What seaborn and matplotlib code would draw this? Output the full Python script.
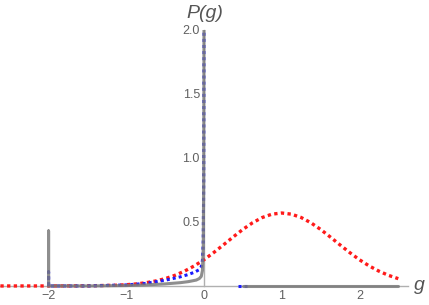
import numpy as np
import pandas as pd
import matplotlib
matplotlib.use("Agg")
import matplotlib.pyplot as plt
import seaborn as sns
from matplotlib.ticker import MultipleLocator

# ---- data ----
red_x = [-2.62, -2.0, -1.5, -1.125, -1.0, -0.875, -0.75, -0.625, -0.5, -0.375, -0.25, -0.125,
         0.0, 0.125, 0.25, 0.375, 0.5, 0.625, 0.75, 0.875, 1.0, 1.125, 1.25, 1.375, 1.5,
         1.625, 1.75, 1.875, 2.0, 2.125, 2.25, 2.375, 2.5]
red_y = [0.0, 0.0001, 0.001, 0.0057, 0.0096, 0.0158, 0.025, 0.0385, 0.057, 0.0828, 0.116, 0.1567,
         0.205, 0.261, 0.321, 0.3826, 0.442, 0.4938, 0.535, 0.561, 0.57, 0.561, 0.535, 0.4938, 0.442,
         0.3826, 0.321, 0.261, 0.205, 0.1567, 0.116, 0.0828, 0.057]

blue_x = [-2.0, -2.0, -2.0, -1.5, -1.0, -0.75, -0.5, -0.4, -0.3, -0.2, -0.12, -0.06,
          -0.035, -0.02, -0.01, -0.004, 0.0, 0.0, 0.44, 0.55]
blue_y = [0.0, 0.11, 0.0, 0.0, 0.008, 0.02, 0.045, 0.058, 0.072, 0.09, 0.108, 0.128,
          0.15, 0.2, 0.35, 0.8, 2.0, np.nan, 0.0, 0.0]

gray_x = [-2.0, -2.0, -2.0, -1.5, -1.0, -0.75, -0.5, -0.3, -0.2, -0.1, -0.06, -0.035, -0.02,
          -0.01, -0.004, 0.0, 0.0, 0.5, 2.5]
gray_y = [0.0, 0.43, 0.0, 0.0, 0.003, 0.008, 0.016, 0.026, 0.034, 0.046, 0.058, 0.075, 0.12,
          0.3, 0.8, 2.05, np.nan, 0.0, 0.0]

x_ticks = [-2, -1, 0, 1, 2]
x_tick_labels = ["\u22122", "\u22121", "0", "1", "2"]
y_ticks = [0.5, 1.0, 1.5, 2.0]
y_tick_labels = ["0.5", "1.0", "1.5", "2.0"]

# ---- figure ----
sns.set_style("white")
plt.rcParams["font.family"] = ["Liberation Sans", "DejaVu Sans"]

W, H = 429, 305
fig = plt.figure(figsize=(W / 100, H / 100), dpi=100)
ax_left, ax_right = 0 / W, 408 / W
ax_top_px, ax_bot_px = 30, 289.8
ax = fig.add_axes([ax_left, (H - ax_bot_px) / H, ax_right - ax_left, (ax_bot_px - ax_top_px) / H])

def seg_frame(xs, ys):
    rows = []
    seg = 0
    for xv, yv in zip(xs, ys):
        if isinstance(yv, float) and np.isnan(yv):
            seg += 1
            continue
        rows.append((xv, yv, seg))
    return pd.DataFrame(rows, columns=["x", "y", "seg"])

gray_df = seg_frame(gray_x, gray_y)
blue_df = seg_frame(blue_x, blue_y)
red_df = pd.DataFrame({"x": red_x, "y": red_y})

sns.lineplot(data=red_df, x="x", y="y", ax=ax, sort=False, estimator=None,
             color="#ff1a1a", lw=2.4, zorder=3, linestyle=(0, (1.0, 1.0)))
for s, d in blue_df.groupby("seg"):
    sns.lineplot(data=d, x="x", y="y", ax=ax, sort=False, estimator=None,
                 color="#1a1aff", lw=2.2, zorder=4, linestyle=(0, (1.0, 1.0)))
for s, d in gray_df.groupby("seg"):
    sns.lineplot(data=d, x="x", y="y", ax=ax, sort=False, estimator=None,
                 color="#7a7a7a", lw=2.2, alpha=0.85, zorder=5)

ax.set_xlim(-2.625, 2.625)
ax.set_ylim(-0.03, 2.0)

for side in ["top", "right"]:
    ax.spines[side].set_visible(False)
ax.spines["left"].set_position(("data", 0))
ax.spines["bottom"].set_position(("data", 0))
ax.spines["left"].set_bounds(0, 2.0)
for side in ["left", "bottom"]:
    ax.spines[side].set_color("#b0b0b0")
    ax.spines[side].set_linewidth(1.0)
    ax.spines[side].set_zorder(1)

ax.set_xticks(x_ticks)
ax.set_xticklabels(x_tick_labels)
ax.set_yticks(y_ticks)
ax.set_yticklabels(y_tick_labels)
ax.xaxis.set_minor_locator(MultipleLocator(0.2))
ax.yaxis.set_minor_locator(MultipleLocator(0.1))
ax.tick_params(axis="both", which="major", direction="in", length=4, width=0.8,
               color="#a0a0a0", labelcolor="#606060", labelsize=9, pad=3)
ax.tick_params(axis="both", which="minor", direction="in", length=2.2, width=0.6,
               color="#b8b8b8")
ax.set_xlabel("")
ax.set_ylabel("")
ax.grid(False)

fig.text(205 / W, 1 - 13 / H, "P(g)", ha="center", va="center", fontsize=14,
         style="italic", color="#555555")
fig.text(419 / W, 1 - 285 / H, "g", ha="center", va="center", fontsize=14,
         style="italic", color="#555555")

fig.savefig("out.png", dpi=100)
